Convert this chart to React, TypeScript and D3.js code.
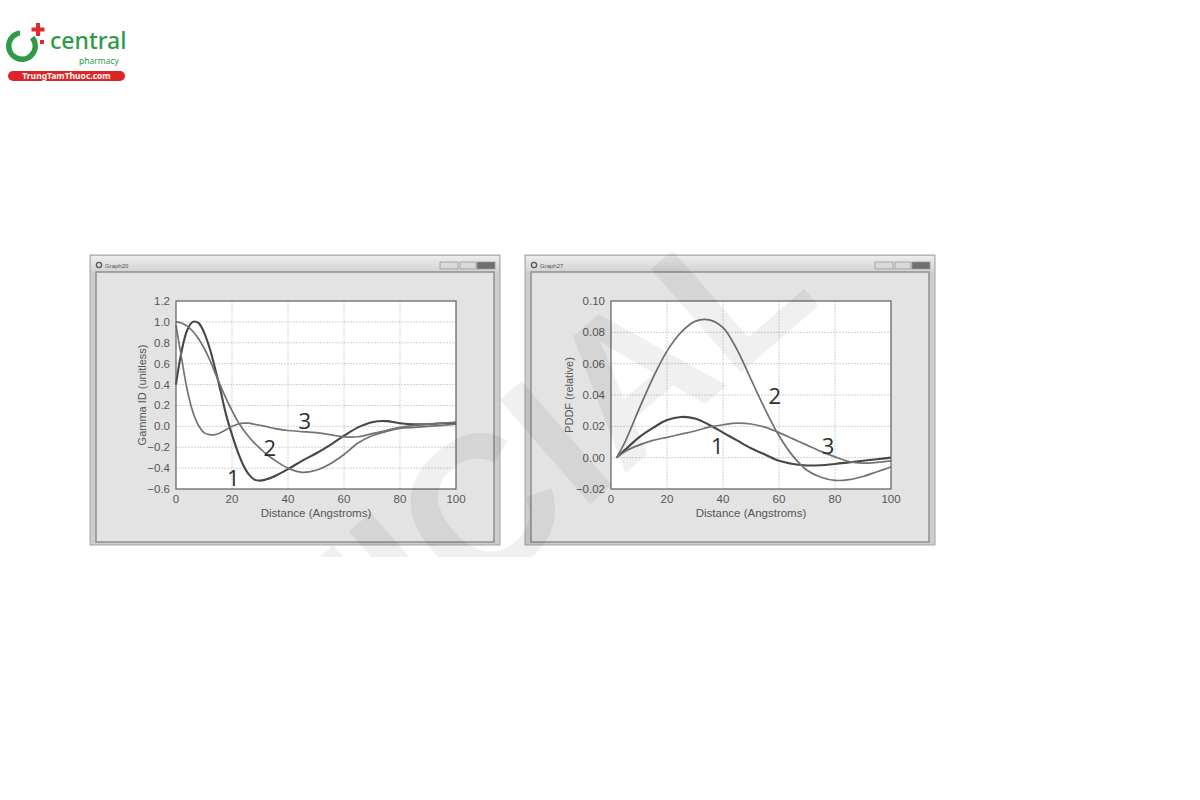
import { useEffect, useRef } from 'react'
import * as d3 from 'd3'

// Gamma function (left window)
const gammaX = [0, 2, 4, 6, 8, 10, 12, 14, 16, 18, 20, 22, 24, 26, 28, 30, 32, 35, 40, 45, 50, 55, 60, 65, 70, 75, 80, 85, 90, 95, 100]
const gamma1 = [0.4, 0.72, 0.92, 1.0, 0.99, 0.9, 0.75, 0.55, 0.33, 0.1, -0.08, -0.24, -0.37, -0.46, -0.51, -0.52, -0.51, -0.48, -0.41, -0.33, -0.26, -0.18, -0.09, -0.01, 0.04, 0.05, 0.03, 0.02, 0.02, 0.03, 0.03]
const gamma2 = [1.0, 0.99, 0.96, 0.91, 0.84, 0.75, 0.64, 0.51, 0.38, 0.26, 0.15, 0.05, -0.03, -0.1, -0.16, -0.21, -0.26, -0.32, -0.4, -0.44, -0.42, -0.36, -0.27, -0.16, -0.09, -0.05, -0.02, -0.01, 0.0, 0.01, 0.02]
const gamma3 = [0.97, 0.65, 0.35, 0.14, 0.01, -0.06, -0.08, -0.08, -0.06, -0.03, 0.0, 0.02, 0.03, 0.03, 0.02, 0.01, 0.0, -0.02, -0.04, -0.05, -0.06, -0.08, -0.1, -0.1, -0.07, -0.04, -0.01, 0.01, 0.02, 0.03, 0.04]
const gammaTicks = [-0.6, -0.4, -0.2, 0, 0.2, 0.4, 0.6, 0.8, 1.0, 1.2]

// PDDF (right window)
const pddfX = [2, 5, 10, 15, 20, 25, 30, 35, 40, 45, 50, 55, 60, 65, 70, 75, 80, 85, 90, 95, 100]
const pddf1 = [0, 0.005, 0.013, 0.019, 0.024, 0.026, 0.025, 0.021, 0.016, 0.011, 0.006, 0.002, -0.002, -0.004, -0.005, -0.0048, -0.004, -0.003, -0.002, -0.001, 0]
const pddf2 = [0, 0.01, 0.031, 0.051, 0.068, 0.08, 0.087, 0.088, 0.083, 0.069, 0.05, 0.031, 0.014, 0.001, -0.008, -0.0125, -0.0145, -0.014, -0.012, -0.009, -0.006]
const pddf3 = [0, 0.004, 0.008, 0.011, 0.013, 0.015, 0.017, 0.0195, 0.021, 0.022, 0.0215, 0.0195, 0.016, 0.012, 0.008, 0.004, 0.0005, -0.0025, -0.0035, -0.003, -0.002]
const pddfTicks = [-0.02, 0, 0.02, 0.04, 0.06, 0.08, 0.1]

const xTicks = [0, 20, 40, 60, 80, 100]
const curveColors = ['#474747', '#717171', '#747474']

type Pt = { x: number; y: number }
type Label = { text: string; x: number; y: number }
type GraphProps = {
  left: number
  title: string
  yDomain: [number, number]
  yTicks: number[]
  digits: number
  yLabel: string
  yLabelOffset: number
  series: Pt[][]
  labels: Label[]
}

const zip = (xs: number[], ys: number[]): Pt[] => xs.map((x, i) => ({ x, y: ys[i] }))
const fmt = (v: number, digits: number) => (v < 0 ? '\u2212' : '') + Math.abs(v).toFixed(digits)

function Graph({ left, title, yDomain, yTicks, digits, yLabel, yLabelOffset, series, labels }: GraphProps) {
  const ref = useRef<SVGGElement | null>(null)
  const top = 255
  const winW = 410
  const winH = 290
  const plot = { x: left + 86, y: 301, w: 280, h: 188 }

  useEffect(() => {
    const g = d3.select(ref.current)
    g.selectAll('*').remove()
    const x = d3.scaleLinear().domain([0, 100]).range([plot.x, plot.x + plot.w])
    const y = d3.scaleLinear().domain(yDomain).range([plot.y + plot.h, plot.y])

    // window chrome
    g.append('rect').attr('x', left).attr('y', top).attr('width', winW).attr('height', winH)
      .attr('fill', '#cdcdcd').attr('stroke', '#a3a3a3')
    g.append('rect').attr('x', left + 1).attr('y', top + 1).attr('width', winW - 2).attr('height', 16)
      .attr('fill', 'url(#titleGrad)')
    g.append('circle').attr('cx', left + 9).attr('cy', top + 10).attr('r', 2.6)
      .attr('fill', 'none').attr('stroke', '#555').attr('stroke-width', 1.3)
    g.append('text').attr('x', left + 15).attr('y', top + 12.5).text(title)
      .attr('font-size', 6).attr('fill', '#555').attr('font-family', 'Liberation Sans, Arial, sans-serif')
    const btns = [[350, 18], [370, 16], [387, 18]]
    btns.forEach(([bx, bw], i) => {
      g.append('rect').attr('x', left + bx).attr('y', top + 7).attr('width', bw).attr('height', 7)
        .attr('fill', i === 2 ? '#6f6f6f' : '#d9d9d9').attr('stroke', '#9a9a9a').attr('stroke-width', 0.8)
    })
    g.append('rect').attr('x', left + 6).attr('y', top + 17).attr('width', winW - 12).attr('height', winH - 20)
      .attr('fill', '#e3e3e3').attr('stroke', '#8f8f8f').attr('stroke-width', 1.5)

    // plot area
    g.append('rect').attr('x', plot.x).attr('y', plot.y).attr('width', plot.w).attr('height', plot.h).attr('fill', '#fff')
    g.append('g').selectAll('line').data(xTicks.slice(1, -1)).join('line')
      .attr('x1', (d: number) => x(d)).attr('x2', (d: number) => x(d))
      .attr('y1', plot.y).attr('y2', plot.y + plot.h)
      .attr('stroke', '#d2d2d2').attr('stroke-dasharray', '2,1')
    g.append('g').selectAll('line').data(yTicks.slice(1, -1)).join('line')
      .attr('x1', plot.x).attr('x2', plot.x + plot.w)
      .attr('y1', (d: number) => y(d)).attr('y2', (d: number) => y(d))
      .attr('stroke', '#d2d2d2').attr('stroke-dasharray', '2,1')

    const font = 'Liberation Sans, Arial, sans-serif'
    g.append('g').selectAll('text').data(yTicks).join('text')
      .attr('x', plot.x - 6).attr('y', (d: number) => y(d) + 4)
      .attr('text-anchor', 'end').attr('font-size', 11.5).attr('font-family', font).attr('fill', '#565656')
      .text((d: number) => fmt(d, digits))
    g.append('g').selectAll('text').data(xTicks).join('text')
      .attr('x', (d: number) => x(d)).attr('y', plot.y + plot.h + 14)
      .attr('text-anchor', 'middle').attr('font-size', 11.5).attr('font-family', font).attr('fill', '#565656')
      .text((d: number) => String(d))
    g.append('text').attr('x', plot.x + plot.w / 2).attr('y', plot.y + plot.h + 28)
      .attr('text-anchor', 'middle').attr('font-size', 11.5).attr('font-family', font).attr('fill', '#565656')
      .text('Distance (Angstroms)')
    g.append('text').attr('transform', `translate(${plot.x - yLabelOffset},${plot.y + plot.h / 2}) rotate(-90)`)
      .attr('text-anchor', 'middle').attr('font-size', 11).attr('font-family', font).attr('fill', '#565656')
      .text(yLabel)

    const line = d3.line<Pt>().x((d: Pt) => x(d.x)).y((d: Pt) => y(d.y)).curve(d3.curveCatmullRom.alpha(0.5))
    series.forEach((s, i) => {
      g.append('path').datum(s).attr('d', line as any).attr('fill', 'none')
        .attr('stroke', curveColors[i]).attr('stroke-width', i === 0 ? 2.1 : 1.7)
    })

    g.append('rect').attr('x', plot.x).attr('y', plot.y).attr('width', plot.w).attr('height', plot.h)
      .attr('fill', 'none').attr('stroke', '#5e5e5e').attr('stroke-width', 1.2)

    labels.forEach((l) => {
      g.append('text').attr('x', x(l.x)).attr('y', y(l.y)).attr('text-anchor', 'middle')
        .attr('font-size', 22).attr('font-family', 'Open Sans, Noto Sans, sans-serif').attr('fill', '#2e2e2e')
        .text(l.text)
    })
  }, [left, title])

  return <g ref={ref} />
}

function Logo() {
  const arc = d3.arc()({ innerRadius: 10.5, outerRadius: 16, startAngle: Math.PI * 0.28, endAngle: Math.PI * 2 - 0.15 }) as string
  return (
    <g>
      <path d={arc} transform="translate(22,46)" fill="#2f9a48" />
      <g fill="#e32b2b">
        <rect x={36} y={23} width={4} height={13} />
        <rect x={31.5} y={27.5} width={13} height={4} />
      </g>
      <rect x={40} y={40} width={4} height={4} fill="#e32b2b" />
      <text x={50} y={49} fontSize={23} fontFamily="Noto Sans, Open Sans, sans-serif" fontWeight={500} fill="#2f9a48">central</text>
      <text x={79} y={64} fontSize={8.5} fontFamily="Noto Sans, sans-serif" fill="#2f9a48">pharmacy</text>
      <rect x={8} y={71} width={117} height={10} rx={5} fill="#e02424" />
      <text x={66.5} y={79} textAnchor="middle" fontSize={8.5} fontWeight="bold" fontFamily="Noto Sans, sans-serif" fill="#fff">TrungTamThuoc.com</text>
    </g>
  )
}

export default function App() {
  return (
    <svg width={1200} height={800} style={{ position: 'absolute', left: 0, top: 0, background: '#fff' }}>
      <defs>
        <linearGradient id="titleGrad" x1="0" y1="0" x2="0" y2="1">
          <stop offset="0" stopColor="#ededed" />
          <stop offset="1" stopColor="#d3d3d3" />
        </linearGradient>
        <clipPath id="imgClip">
          <rect x={88} y={252} width={852} height={305} />
        </clipPath>
      </defs>
      <Logo />
      <Graph
        left={90}
        title="Graph20"
        yDomain={[-0.6, 1.2]}
        yTicks={gammaTicks}
        digits={1}
        yLabel="Gamma ID (unitless)"
        yLabelOffset={30}
        series={[zip(gammaX, gamma1), zip(gammaX, gamma2), zip(gammaX, gamma3)]}
        labels={[{ text: '1', x: 20.5, y: -0.57 }, { text: '2', x: 33.5, y: -0.28 }, { text: '3', x: 46, y: -0.03 }]}
      />
      <Graph
        left={525}
        title="Graph27"
        yDomain={[-0.02, 0.1]}
        yTicks={pddfTicks}
        digits={2}
        yLabel="PDDF (relative)"
        yLabelOffset={38}
        series={[zip(pddfX, pddf1), zip(pddfX, pddf2), zip(pddfX, pddf3)]}
        labels={[{ text: '1', x: 38, y: 0.0025 }, { text: '2', x: 58.5, y: 0.034 }, { text: '3', x: 77.5, y: 0.0025 }]}
      />
      <g clipPath="url(#imgClip)">
        <g transform="translate(600,400) rotate(-41)">
          <text x={233} y={72} textAnchor="end" fontSize={200} fontWeight="bold"
            fontFamily="Liberation Sans, Arial, sans-serif" fill="#000" fillOpacity={0.06}>OFFICIAL</text>
        </g>
      </g>
    </svg>
  )
}
